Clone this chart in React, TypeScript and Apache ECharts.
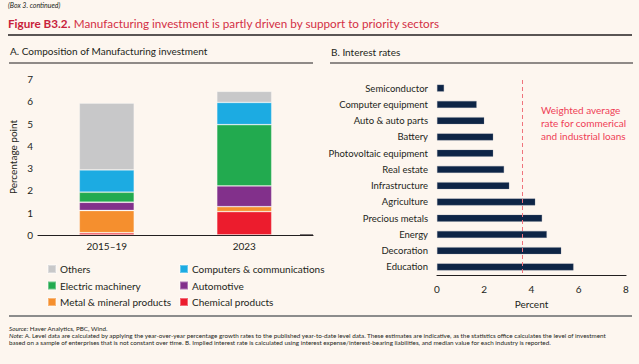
import React, { useEffect, useRef } from "react";
import * as echarts from "echarts";

const periods = ["2015–19", "2023"];
const chemical = [0.1, 1.05];
const metal = [1.0, 0.22];
const automotive = [0.37, 0.93];
const electric = [0.45, 2.75];
const computers = [1.0, 1.0];
const others = [3.0, 0.5];

const sectors = [
  "Semiconductor",
  "Computer equipment",
  "Auto & auto parts",
  "Battery",
  "Photovoltaic equipment",
  "Real estate",
  "Infrastructure",
  "Agriculture",
  "Precious metals",
  "Energy",
  "Decoration",
  "Education",
];
const rates = [0.3, 1.68, 2.0, 2.38, 2.38, 2.84, 3.06, 4.16, 4.45, 4.65, 5.26, 5.78];
const weightedAverage = 3.6;

const FONT = "Lato";
const DARK = "#231F20";

export default function App() {
  const ref = useRef<HTMLDivElement>(null);
  useEffect(() => {
    if (!ref.current) return;
    const chart = echarts.init(ref.current, undefined, { renderer: "svg" });
    const stackSeries = (name: string, data: number[], color: string) => ({
      name,
      type: "bar",
      stack: "total",
      xAxisIndex: 0,
      yAxisIndex: 0,
      barWidth: "40%",
      data,
      itemStyle: { color, borderColor: "rgba(255,255,255,0.35)", borderWidth: 0.8 },
    });
    const option: any = {
      animation: false,
      backgroundColor: "#FDF6EF",
      textStyle: { fontFamily: FONT, color: DARK },
      grid: [
        { left: 38, right: 326, top: 79, bottom: 129 },
        { left: 437, right: 13, top: 80, bottom: 89 },
      ],
      xAxis: [
        {
          type: "category",
          gridIndex: 0,
          data: periods,
          axisLine: { lineStyle: { color: DARK, width: 1.2 } },
          axisTick: { show: false },
          axisLabel: { color: DARK, fontSize: 10, fontFamily: FONT, margin: 6 },
        },
        {
          type: "value",
          gridIndex: 1,
          min: 0,
          max: 8,
          interval: 2,
          name: "Percent",
          nameLocation: "middle",
          nameGap: 21,
          nameTextStyle: { color: DARK, fontSize: 10, fontFamily: FONT },
          axisLine: { show: true, lineStyle: { color: DARK, width: 1.2 } },
          axisTick: { show: false },
          splitLine: { show: false },
          axisLabel: { color: DARK, fontSize: 10, fontFamily: FONT, margin: 9 },
        },
      ],
      yAxis: [
        {
          type: "value",
          gridIndex: 0,
          min: 0,
          max: 7,
          interval: 1,
          name: "Percentage point",
          nameLocation: "middle",
          nameGap: 20,
          nameRotate: 90,
          nameTextStyle: { color: DARK, fontSize: 10, fontFamily: FONT },
          axisLine: { show: false },
          axisTick: { show: false },
          splitLine: { show: false },
          axisLabel: { color: DARK, fontSize: 10, fontFamily: FONT, margin: 5 },
        },
        {
          type: "category",
          gridIndex: 1,
          data: sectors,
          inverse: true,
          axisLine: { show: false },
          axisTick: { show: false },
          axisLabel: { color: DARK, fontSize: 9.5, fontFamily: FONT, margin: 9 },
        },
      ],
      legend: [
        {
          left: 42,
          top: 258,
          orient: "vertical",
          itemWidth: 8,
          itemHeight: 8,
          itemGap: 4.5,
          icon: "rect",
          data: ["Others", "Electric machinery", "Metal & mineral products"],
          textStyle: { color: DARK, fontSize: 10, fontFamily: FONT, lineHeight: 12, padding: [0, 0, 0, -1] },
        },
        {
          left: 174,
          top: 258,
          orient: "vertical",
          itemWidth: 8,
          itemHeight: 8,
          itemGap: 4.5,
          icon: "rect",
          data: ["Computers & communications", "Automotive", "Chemical products"],
          textStyle: { color: DARK, fontSize: 10, fontFamily: FONT, lineHeight: 12, padding: [0, 0, 0, -1] },
        },
      ],
      series: [
        stackSeries("Chemical products", chemical, "#EC1C2D"),
        stackSeries("Metal & mineral products", metal, "#F58F2E"),
        stackSeries("Automotive", automotive, "#82308B"),
        stackSeries("Electric machinery", electric, "#22AA4F"),
        stackSeries("Computers & communications", computers, "#1CABE2"),
        stackSeries("Others", others, "#C8C8C9"),
        {
          name: "Interest rate",
          type: "bar",
          xAxisIndex: 1,
          yAxisIndex: 1,
          data: rates,
          barWidth: 7,
          itemStyle: { color: "#0E2546", borderColor: "rgba(120,130,150,0.5)", borderWidth: 0.5 },
          markLine: {
            silent: true,
            symbol: "none",
            label: { show: false },
            lineStyle: { color: "#F0737C", type: [4, 3], width: 1 },
            data: [{ xAxis: weightedAverage }],
          },
        },
      ],
      graphic: [
        {
          type: "text",
          left: 8,
          top: 1,
          style: { text: "(Box 3. continued)", fill: DARK, font: `italic 7px ${FONT}` },
        },
        {
          type: "text",
          left: 8,
          top: 17,
          style: {
            text: "{b|Figure B3.2.} {n|Manufacturing investment is partly driven by support to priority sectors}",
            rich: {
              b: { fill: "#C8213B", fontSize: 11.7, fontWeight: "bold", fontFamily: FONT },
              n: { fill: "#D32F45", fontSize: 11.7, fontFamily: FONT },
            },
          },
        },
        { type: "line", shape: { x1: 8, y1: 35, x2: 632, y2: 35 }, style: { stroke: DARK, lineWidth: 1.3 } },
        {
          type: "text",
          left: 10,
          top: 46,
          style: { text: "A. Composition of Manufacturing investment", fill: DARK, font: `10px ${FONT}` },
        },
        {
          type: "text",
          left: 331,
          top: 47,
          style: { text: "B. Interest rates", fill: DARK, font: `10px ${FONT}` },
        },
        { type: "line", shape: { x1: 9, y1: 63, x2: 313, y2: 63 }, style: { stroke: DARK, lineWidth: 1.2 } },
        { type: "line", shape: { x1: 330, y1: 63, x2: 633, y2: 63 }, style: { stroke: DARK, lineWidth: 1.2 } },
        { type: "line", shape: { x1: 300, y1: 235, x2: 313, y2: 235 }, style: { stroke: DARK, lineWidth: 1.2 } },
        {
          type: "text",
          left: 541,
          top: 103,
          style: {
            text: "Weighted average\nrate for commerical\nand industrial loans",
            fill: "#EF4056",
            font: `10px ${FONT}`,
            lineHeight: 13,
          },
        },
        { type: "line", shape: { x1: 9, y1: 316, x2: 632, y2: 316 }, style: { stroke: "#8C8C8C", lineWidth: 2 } },
        {
          type: "text",
          left: 9,
          top: 325,
          style: {
            text: "{i|Source:} Haver Analytics, PBC, Wind.",
            fill: DARK,
            font: `6.3px ${FONT}`,
            rich: { i: { fontStyle: "italic", fontSize: 6.3, fontFamily: FONT, fill: DARK } },
          },
        },
        {
          type: "text",
          left: 9,
          top: 332,
          style: {
            text:
              "{i|Note:} A. Level data are calculated by applying the year-over-year percentage growth rates to the published year-to-date level data. These estimates are indicative, as the statistics office calculates the level of investment\nbased on a sample of enterprises that is not constant over time. B. Implied interest rate is calculated using interest expense/interest-bearing liabilities, and median value for each industry is reported.",
            fill: DARK,
            font: `6.3px ${FONT}`,
            lineHeight: 7.2,
            rich: { i: { fontStyle: "italic", fontSize: 6.3, fontFamily: FONT, fill: DARK, lineHeight: 7.2 } },
          },
        },
      ],
    };
    chart.setOption(option);
    return () => chart.dispose();
  }, []);
  return (
    <div
      ref={ref}
      style={{ position: "fixed", left: 0, top: 0, width: 639, height: 364 }}
    />
  );
}
